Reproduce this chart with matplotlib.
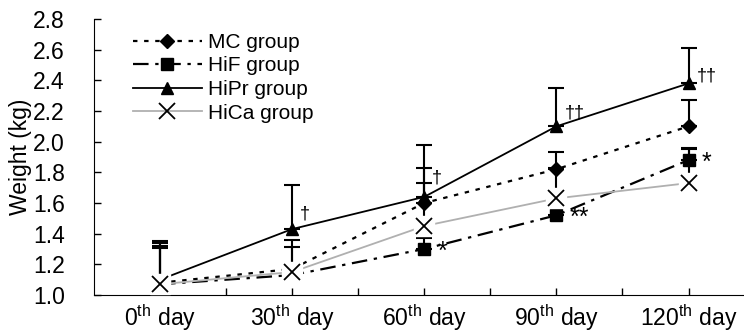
import matplotlib
matplotlib.use('Agg')
import matplotlib.pyplot as plt
from matplotlib.lines import Line2D

plt.rcParams['font.family'] = ['Liberation Sans', 'DejaVu Sans']
plt.rcParams['mathtext.fontset'] = 'custom'
plt.rcParams['mathtext.rm'] = 'Liberation Sans'

# data
days = ['0$^{\\mathrm{th}}$ day', '30$^{\\mathrm{th}}$ day', '60$^{\\mathrm{th}}$ day',
        '90$^{\\mathrm{th}}$ day', '120$^{\\mathrm{th}}$ day']
mc = [1.08, 1.17, 1.60, 1.82, 2.10]
mc_err = [0.26, 0.19, 0.23, 0.11, 0.17]
hif = [1.07, 1.13, 1.30, 1.52, 1.88]
hif_err = [0.235, 0.03, 0.07, 0.06, 0.07]
hipr = [1.10, 1.43, 1.64, 2.10, 2.38]
hipr_err = [0.25, 0.29, 0.34, 0.25, 0.23]
hica = [1.07, 1.15, 1.45, 1.63, 1.73]
hica_err = [0.25, 0.16, 0.28, 0.20, 0.23]

# significance marks: (day index, y, text)
marks = [(1, 1.53, '†'), (2, 1.76, '†'), (3, 2.19, '††'), (4, 2.43, '††'),
         (2, 1.28, '*'), (3, 1.50, '**'), (4, 1.86, '*')]

x = list(range(len(days)))

fig = plt.figure(figsize=(7.44, 3.35), dpi=100)
ax = fig.add_axes([94 / 744, 40 / 335, 1 - 94 / 744, 276 / 335])

# error bars (upper side only)
for vals, errs in [(mc, mc_err), (hif, hif_err), (hipr, hipr_err), (hica, hica_err)]:
    ax.errorbar(x, vals, yerr=[[0] * len(errs), errs], fmt='none', ecolor='black',
                elinewidth=1.5, capsize=6, capthick=1.5, zorder=2)

ax.plot(x, mc, color='black', linestyle=(0, (2, 3)), lw=1.6, marker='D', ms=7, zorder=3)
ax.plot(x, hif, color='black', linestyle=(0, (7, 3, 1.5, 3)), lw=1.6, marker='s', ms=8, zorder=3)
ax.plot(x, hipr, color='black', linestyle='-', lw=1.3, marker='^', ms=9, zorder=3)
ax.plot(x, hica, color='#b0b0b0', linestyle='-', lw=1.3, zorder=3)
# white box behind the X markers
ax.plot(x, hica, linestyle='none', marker='s', ms=15, mfc='white', mec='white', zorder=4)
ax.plot(x, hica, linestyle='none', marker='x', ms=12, mew=1.3, color='black', zorder=5)

for i, y, t in marks:
    if '†' in t:
        ax.text(i + 0.06, y, t, fontsize=13, ha='left', va='center', zorder=6)
    else:
        ax.text(i + 0.1, y, t, fontsize=18, ha='left', va='center', zorder=6)

ax.set_xlim(-0.5, 4.42)
ax.set_ylim(1.0, 2.8)
ax.set_yticks([1.0 + 0.2 * k for k in range(10)])
ax.set_yticklabels([f'{1.0 + 0.2 * k:.1f}' for k in range(10)])
ax.set_xticks(x)
ax.set_xticklabels(days)
ax.set_xticks([0.5, 1.5, 2.5, 3.5], minor=True)
ax.tick_params(axis='both', which='both', direction='in', length=5, width=1, labelsize=16.5)
ax.tick_params(axis='y', pad=21)
ax.tick_params(axis='x', pad=5)
for s in ['top', 'right']:
    ax.spines[s].set_visible(False)
ax.set_ylabel('Weight (kg)', fontsize=16.5, labelpad=1)

handles = [
    Line2D([], [], color='black', linestyle=(0, (2, 3)), lw=1.6, marker='D', ms=7),
    Line2D([], [], color='black', linestyle=(0, (7, 3, 1.5, 3)), lw=1.6, marker='s', ms=8),
    Line2D([], [], color='black', lw=1.3, marker='^', ms=9),
    Line2D([], [], color='#b0b0b0', lw=1.3, marker='x', ms=12, mew=1.3, mec='black'),
]
ax.legend(handles, ['MC group', 'HiF group', 'HiPr group', 'HiCa group'],
          loc='upper left', bbox_to_anchor=(0.047, 0.98), frameon=False, fontsize=15,
          handlelength=3.3, handletextpad=0.3, labelspacing=0.22, borderaxespad=0)

fig.savefig('out.png', dpi=100)
